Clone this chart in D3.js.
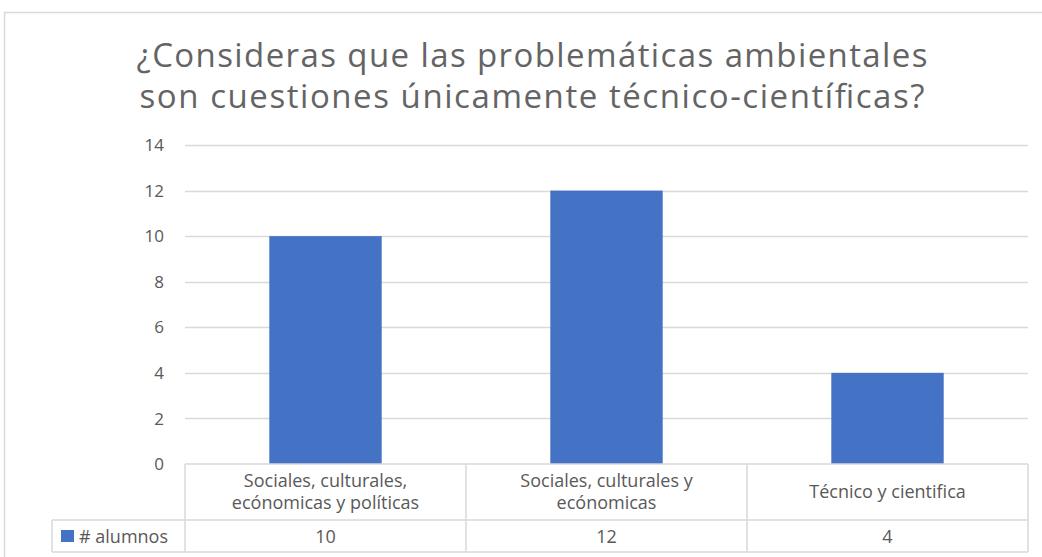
<!DOCTYPE html>
<html>
<head>
<meta charset="utf-8">
<script src="https://cdn.jsdelivr.net/npm/d3@7"></script>
<style>
  body { margin: 0; background: #fff; }
  svg { font-family: "Open Sans", sans-serif; }
</style>
</head>
<body>
<svg id="chart" width="1042" height="557"></svg>
<script>
// data
var categories = [
  ["Sociales, culturales,", "ecónomicas y políticas"],
  ["Sociales, culturales y", "ecónomicas"],
  ["Técnico y cientifica"]
];
var seriesName = "# alumnos";
var values = [10, 12, 4];
var yTicks = [0, 2, 4, 6, 8, 10, 12, 14];
var titleLines = [
  "¿Consideras que las problemáticas ambientales",
  "son cuestiones únicamente técnico-científicas?"
];

var svg = d3.select("#chart");
var textColor = "#595959";
var gridColor = "#d9d9d9";
var barColor = "#4472c4";

// outer frame
svg.append("rect")
  .attr("x", 4.5).attr("y", 12.5)
  .attr("width", 1050).attr("height", 560)
  .attr("fill", "none").attr("stroke", "#d9d9d9").attr("stroke-width", 1.5);

// title
svg.append("g").selectAll("text")
  .data(titleLines)
  .enter().append("text")
  .attr("x", 532)
  .attr("y", function (d, i) { return 67 + i * 41; })
  .attr("text-anchor", "middle")
  .attr("font-size", 33)
  .attr("fill", "#646464")
  .attr("textLength", function (d, i) { return i === 0 ? 791 : 785; })
  .attr("lengthAdjust", "spacing")
  .text(function (d) { return d; });

var plotLeft = 185, plotRight = 1028, plotTop = 145, plotBottom = 464;

var x = d3.scaleBand()
  .domain(d3.range(categories.length))
  .range([plotLeft, plotRight])
  .paddingInner(0.6)
  .paddingOuter(0.3);

var y = d3.scaleLinear()
  .domain([0, 14])
  .range([plotBottom, plotTop]);

// gridlines
svg.append("g").selectAll("line")
  .data(yTicks.filter(function (d) { return d > 0; }))
  .enter().append("line")
  .attr("x1", plotLeft).attr("x2", plotRight)
  .attr("y1", function (d) { return Math.round(y(d)) + 0.5; })
  .attr("y2", function (d) { return Math.round(y(d)) + 0.5; })
  .attr("stroke", gridColor).attr("stroke-width", 1.5);

// y labels
svg.append("g").selectAll("text")
  .data(yTicks)
  .enter().append("text")
  .attr("x", 164)
  .attr("y", function (d) { return y(d); })
  .attr("dy", "0.36em")
  .attr("text-anchor", "end")
  .attr("font-size", 17)
  .attr("fill", textColor)
  .text(function (d) { return d; });

// bars
svg.append("g").selectAll("rect")
  .data(values)
  .enter().append("rect")
  .attr("x", function (d, i) { return x(i); })
  .attr("y", function (d) { return y(d); })
  .attr("width", x.bandwidth())
  .attr("height", function (d) { return y(0) - y(d); })
  .attr("fill", barColor);

// data table
var rowMid = 520, tableBottom = 552, legendLeft = 52;
var step = x.step();
var table = svg.append("g")
  .attr("stroke", gridColor).attr("stroke-width", 1.5).attr("fill", "none");

table.append("line").attr("x1", plotLeft).attr("x2", plotRight).attr("y1", plotBottom).attr("y2", plotBottom);
table.append("line").attr("x1", legendLeft).attr("x2", plotRight).attr("y1", rowMid).attr("y2", rowMid);
table.append("line").attr("x1", legendLeft).attr("x2", plotRight).attr("y1", tableBottom).attr("y2", tableBottom);
table.append("line").attr("x1", legendLeft).attr("x2", legendLeft).attr("y1", rowMid).attr("y2", tableBottom);
table.selectAll(".v")
  .data(d3.range(categories.length + 1))
  .enter().append("line")
  .attr("x1", function (d) { return plotLeft + d * step; })
  .attr("x2", function (d) { return plotLeft + d * step; })
  .attr("y1", plotBottom).attr("y2", tableBottom);

// category labels
var catG = svg.append("g").selectAll("g")
  .data(categories)
  .enter().append("g")
  .attr("transform", function (d, i) { return "translate(" + (x(i) + x.bandwidth() / 2) + ",0)"; });

catG.selectAll("text")
  .data(function (d) { return d.map(function (t, j) { return { t: t, j: j, n: d.length }; }); })
  .enter().append("text")
  .attr("text-anchor", "middle")
  .attr("font-size", 18)
  .attr("fill", textColor)
  .attr("y", function (d) {
    var mid = (plotBottom + rowMid) / 2;
    return mid + (d.j - (d.n - 1) / 2) * 22.5 + 6;
  })
  .text(function (d) { return d.t; });

// values row
svg.append("g").selectAll("text")
  .data(values)
  .enter().append("text")
  .attr("x", function (d, i) { return x(i) + x.bandwidth() / 2; })
  .attr("y", (rowMid + tableBottom) / 2 + 6.5)
  .attr("text-anchor", "middle")
  .attr("font-size", 18)
  .attr("fill", textColor)
  .text(function (d) { return d; });

// legend key
svg.append("rect")
  .attr("x", 61).attr("y", 530)
  .attr("width", 13).attr("height", 12)
  .attr("fill", barColor);
svg.append("text")
  .attr("x", 79).attr("y", (rowMid + tableBottom) / 2 + 6.5)
  .attr("font-size", 18)
  .attr("fill", textColor)
  .text(seriesName);
</script>
</body>
</html>
